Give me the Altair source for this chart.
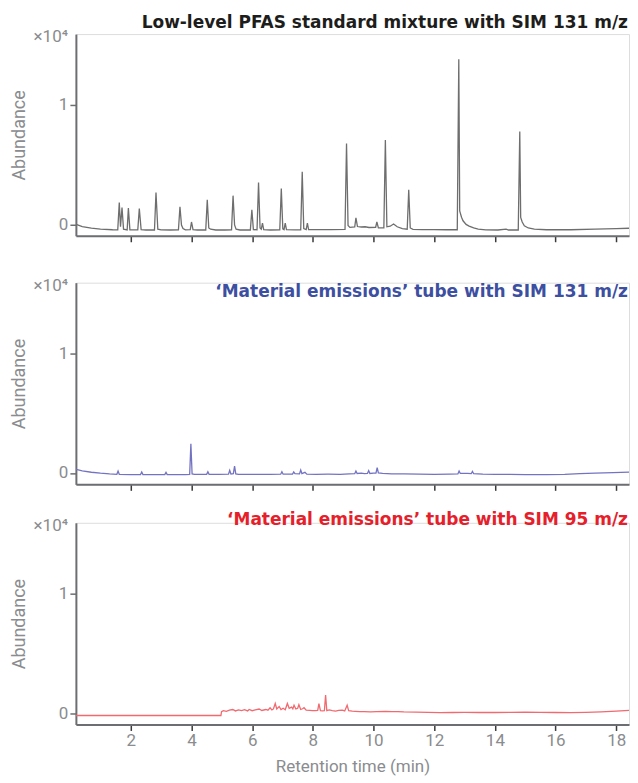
import altair as alt
import pandas as pd

# ---------------- data (abundance in units of 10^4) ----------------
std_time = [0.20, 0.40, 0.70, 1.00, 1.40, 1.57, 1.62, 1.66, 1.71, 1.76, 1.88, 1.92, 1.97,
            2.23, 2.28, 2.34, 2.50, 2.78, 2.83, 2.89, 3.00, 3.30, 3.57, 3.62, 3.67, 3.72,
            3.80, 3.96, 4.00, 4.05, 4.20, 4.47, 4.52, 4.57, 4.63, 4.80, 5.10, 5.32, 5.37,
            5.42, 5.47, 5.60, 5.94, 5.99, 6.04, 6.16, 6.21, 6.26, 6.30, 6.34, 6.38, 6.60,
            6.91, 6.96, 7.01, 7.05, 7.09, 7.13, 7.40, 7.60, 7.65, 7.70, 7.78, 7.82, 7.86,
            8.20, 8.60, 9.06, 9.11, 9.16, 9.22, 9.38, 9.42, 9.47, 9.60, 9.72, 9.85, 10.07,
            10.11, 10.16, 10.34, 10.39, 10.44, 10.55, 10.66, 10.78, 10.95, 11.11, 11.16,
            11.21, 11.30, 11.60, 12.00, 12.40, 12.76, 12.81, 12.84, 12.90, 12.95, 13.05,
            13.15, 13.30, 13.45, 13.70, 14.10, 14.37, 14.45, 14.77, 14.82, 14.85, 14.90,
            14.97, 15.10, 15.30, 15.70, 16.50, 17.30, 18.00, 18.63]
std_abund = [0.000, -0.018, -0.032, -0.040, -0.045, -0.046, 0.183, -0.020, 0.141, -0.040, -0.046, 0.136, -0.045,
             -0.046, 0.133, -0.044, -0.047, -0.047, 0.266, -0.040, -0.046, -0.047, -0.046, 0.147, -0.005, -0.035,
             -0.046, -0.044, 0.020, -0.044, -0.047, -0.047, 0.205, -0.030, -0.040, -0.047, -0.047, -0.046, 0.240,
             -0.005, -0.040, -0.047, -0.047, 0.122, -0.044, -0.045, 0.350, -0.030, -0.040, 0.010, -0.043, -0.047,
             -0.046, 0.300, -0.038, -0.044, 0.010, -0.044, -0.046, -0.045, 0.440, -0.035, -0.044, 0.010, -0.043,
             -0.044, -0.043, -0.042, 0.675, -0.010, -0.025, -0.022, 0.055, -0.018, -0.022, -0.020, -0.026, -0.024,
             0.020, -0.030, -0.030, 0.705, -0.020, -0.015, 0.003, -0.020, -0.035, -0.040, 0.290,
             -0.030, -0.042, -0.043, -0.044, -0.045, -0.045, 1.379, 0.113, 0.060, 0.030, 0.000,
             -0.014, -0.030, -0.040, -0.046, -0.047, -0.040, -0.047, -0.047, 0.775, 0.058, 0.020,
             -0.012, -0.030, -0.040, -0.045, -0.045, -0.040, -0.035, -0.031]

mat131_time = [0.20, 0.40, 0.70, 1.00, 1.30, 1.54, 1.58, 1.62, 2.00, 2.32, 2.36, 2.40, 2.80, 3.12,
               3.16, 3.20, 3.50, 3.80, 3.94, 3.98, 4.02, 4.10, 4.50, 4.54, 4.58, 4.90, 5.22, 5.26,
               5.30, 5.38, 5.42, 5.46, 5.55, 5.90, 6.30, 6.60, 6.94, 6.98, 7.02, 7.33, 7.37, 7.41,
               7.56, 7.60, 7.64, 7.74, 7.80, 8.10, 8.50, 8.90, 9.20, 9.38, 9.42, 9.46, 9.60, 9.70,
               9.80, 9.84, 9.88, 10.00, 10.08, 10.12, 10.16, 10.30, 10.60, 11.00, 11.50, 12.00,
               12.50, 12.78, 12.82, 12.86, 13.10, 13.22, 13.26, 13.30, 13.60, 14.00, 14.50, 15.00,
               15.70, 16.30, 16.80, 17.30, 17.90, 18.63]
mat131_abund = [0.030, 0.018, 0.006, -0.002, -0.008, -0.011, 0.016, -0.011, -0.013, -0.013, 0.008, -0.013, -0.014, -0.013,
                0.005, -0.013, -0.014, -0.013, -0.012, 0.244, -0.008, -0.012, -0.011, 0.010, -0.011, -0.012, -0.010, 0.022,
                -0.008, -0.006, 0.058, -0.008, -0.011, -0.012, -0.012, -0.011, -0.010, 0.010, -0.010, -0.010, 0.008, -0.006,
                -0.008, 0.024, -0.005, 0.005, -0.010, -0.011, -0.010, -0.011, -0.008, -0.006, 0.016, -0.004, -0.002, -0.006,
                -0.004, 0.020, -0.004, -0.002, -0.002, 0.044, 0.000, -0.004, -0.007, -0.008, -0.010, -0.011,
                -0.010, -0.008, 0.016, -0.004, -0.004, -0.006, 0.013, -0.006, -0.010, -0.011, -0.012, -0.013,
                -0.014, -0.012, -0.006, -0.002, 0.003, 0.008]

mat95_time = [0.20, 4.97, 4.99, 5.05, 5.15, 5.25, 5.36, 5.45, 5.55, 5.65, 5.75, 5.85, 5.90, 6.00,
              6.10, 6.23, 6.32, 6.45, 6.52, 6.59, 6.65, 6.70, 6.76, 6.81, 6.89, 6.95, 7.02, 7.09,
              7.16, 7.22, 7.30, 7.34, 7.38, 7.44, 7.50, 7.54, 7.60, 7.66, 7.71, 7.78, 7.90, 7.98,
              8.08, 8.16, 8.20, 8.25, 8.32, 8.38, 8.42, 8.46, 8.54, 8.64, 8.75, 8.85, 8.97, 9.05,
              9.13, 9.18, 9.30, 9.40, 9.55, 9.70, 9.90, 10.10, 10.40, 10.60, 10.80, 11.00, 11.40,
              11.80, 12.20, 12.60, 13.00, 13.50, 14.00, 14.50, 15.00, 15.50, 16.00, 16.50, 17.00,
              17.50, 18.00, 18.63]
mat95_abund = [-0.020, -0.020, 0.012, 0.020, 0.015, 0.024, 0.030, 0.018, 0.026, 0.020, 0.028, 0.018, 0.030, 0.020,
               0.026, 0.034, 0.022, 0.030, 0.024, 0.044, 0.026, 0.035, 0.080, 0.035, 0.055, 0.030, 0.040, 0.028,
               0.080, 0.040, 0.050, 0.035, 0.066, 0.034, 0.040, 0.070, 0.030, 0.036, 0.045, 0.025, 0.022, 0.020,
               0.020, 0.022, 0.080, 0.020, 0.018, 0.020, 0.150, 0.020, 0.026, 0.020, 0.016, 0.022, 0.025, 0.018,
               0.066, 0.020, 0.016, 0.015, 0.012, 0.013, 0.010, 0.012, 0.015, 0.012, 0.013, 0.010, 0.008,
               0.006, 0.004, 0.005, 0.006, 0.005, 0.005, 0.006, 0.008, 0.006, 0.005, 0.004, 0.006,
               0.010, 0.016, 0.025]

titles = ["Low-level PFAS standard mixture with SIM 131 m/z",
          "\u2018Material emissions\u2019 tube with SIM 131 m/z",
          "\u2018Material emissions\u2019 tube with SIM 95 m/z"]
x_ticks = [2, 4, 6, 8, 10, 12, 14, 16, 18]
y_ticks = [0, 1]
scale_label = "\u00d710\u2074"

# ---------------- styling ----------------
W, H = 554, 202
XDOM = [0.19, 18.42]
YDOM = [-0.095, 1.59]
AX = "#6d6e71"
LBL = "#8a8c8f"


def panel(times, values, line_color, title, title_color, title_y, bottom):
    df = pd.DataFrame({"t": times, "v": values})
    x_axis = alt.Axis(values=x_ticks, labels=bottom, title="Retention time (min)" if bottom else None,
                      tickSize=6, tickWidth=1.5, tickColor="#3a3a3a", domainColor=AX, domainWidth=2,
                      labelFontSize=17, labelColor=LBL, labelFont="Roboto", labelPadding=2,
                      titleFontSize=17, titleFont="Roboto", titleFontWeight="normal", titleColor=LBL,
                      titlePadding=10, grid=False)
    y_axis = alt.Axis(values=y_ticks, title="Abundance", tickSize=6, tickWidth=1.5, tickColor=AX,
                      domainColor=AX, domainWidth=2, labelFontSize=17, labelColor=LBL, labelFont="Roboto",
                      labelPadding=2, titleFontSize=18, titleFont="Roboto", titleFontWeight="normal",
                      titleColor=LBL, minExtent=20, maxExtent=20, titlePadding=27, grid=False)
    line = alt.Chart(df).mark_line(color=line_color, strokeWidth=1.3, clip=True).encode(
        x=alt.X("t:Q", scale=alt.Scale(domain=XDOM, nice=False, zero=False), axis=x_axis),
        y=alt.Y("v:Q", scale=alt.Scale(domain=YDOM, nice=False, zero=False), axis=y_axis),
    )
    ttl = alt.Chart(pd.DataFrame({"label": [title]})).mark_text(
        align="right", baseline="alphabetic", font="DejaVu Sans", fontWeight=700, fontSize=17,
        color=title_color).encode(x=alt.value(W - 1), y=alt.value(title_y), text="label:N")
    sl = alt.Chart(pd.DataFrame({"label": [scale_label]})).mark_text(
        align="right", baseline="alphabetic", font="Roboto", fontSize=17, color=LBL).encode(
        x=alt.value(-8), y=alt.value(8), text="label:N")
    return alt.layer(line, ttl, sl).properties(width=W, height=H)


p1 = panel(std_time, std_abund, "#6e6e6e", titles[0], "#1d1d1b", -6, False)
p2 = panel(mat131_time, mat131_abund, "#7373c2", titles[1], "#3c4fa1", 14, False)
p3 = panel(mat95_time, mat95_abund, "#f06a70", titles[2], "#e5202a", 2, True)

inner = alt.vconcat(p1, p2, spacing=32)
chart = alt.vconcat(inner, p3, spacing=17.5).properties(
    padding={"left": 2, "top": 4.5, "right": 0, "bottom": 0}
).configure_view(strokeWidth=0).configure(background="white")

chart.save("out.html", embed_options={"renderer": "svg", "actions": False})
